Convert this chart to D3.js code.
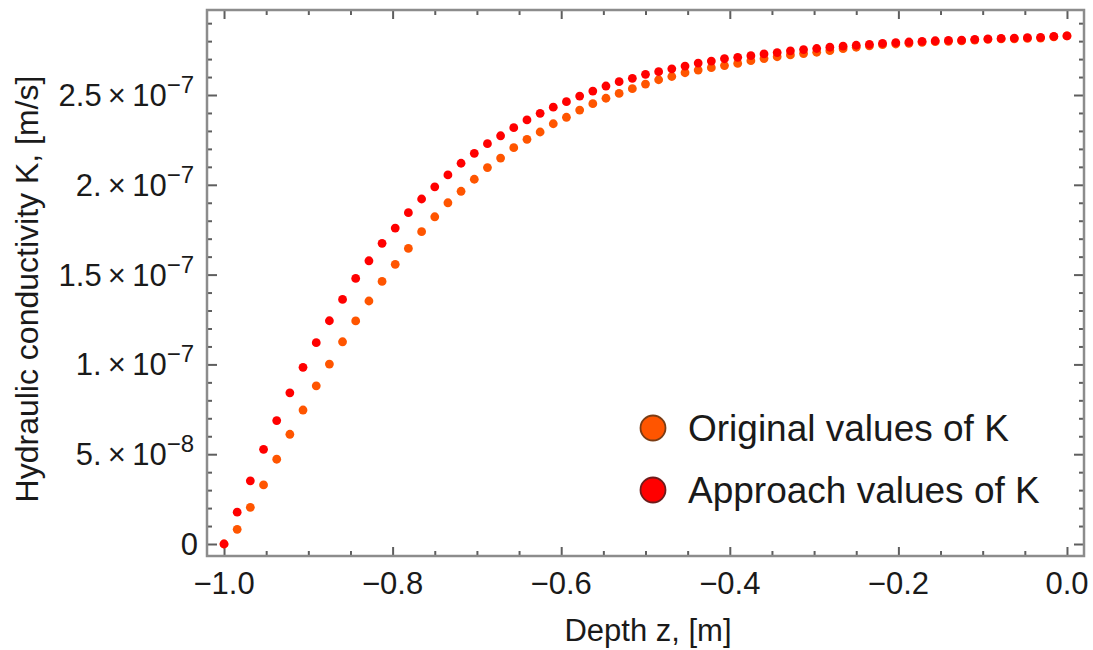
<!DOCTYPE html>
<html>
<head>
<meta charset="utf-8">
<script src="https://cdn.jsdelivr.net/npm/d3@7"></script>
<style>
  html, body { margin: 0; padding: 0; background: #fff; }
  svg { display: block; }
  text { font-family: "Liberation Sans", Arial, sans-serif; fill: #1a1a1a; }
</style>
</head>
<body>
<svg id="chart" width="1093" height="650"></svg>
<script>
// ---------------- data ----------------
const depth = [
  -1, -0.9844, -0.9688, -0.9531, -0.9375, -0.9219, -0.9063, -0.8906, -0.875, -0.8594,
  -0.8438, -0.8281, -0.8125, -0.7969, -0.7813, -0.7656, -0.75, -0.7344, -0.7188, -0.7031,
  -0.6875, -0.6719, -0.6563, -0.6406, -0.625, -0.6094, -0.5938, -0.5781, -0.5625, -0.5469,
  -0.5313, -0.5156, -0.5, -0.4844, -0.4688, -0.4531, -0.4375, -0.4219, -0.4063, -0.3906,
  -0.375, -0.3594, -0.3438, -0.3281, -0.3125, -0.2969, -0.2813, -0.2656, -0.25, -0.2344,
  -0.2188, -0.2031, -0.1875, -0.1719, -0.1563, -0.1406, -0.125, -0.1094, -0.0938, -0.0781,
  -0.0625, -0.0469, -0.0313, -0.0156, 0
];
// hydraulic conductivity in units of 1e-7 m/s
const originalK = [
  0, 0.082, 0.204, 0.329, 0.472, 0.611, 0.746, 0.881, 1.002, 1.126,
  1.242, 1.353, 1.462, 1.557, 1.646, 1.739, 1.822, 1.900, 1.964, 2.031,
  2.096, 2.149, 2.207, 2.253, 2.294, 2.340, 2.376, 2.416, 2.452, 2.482,
  2.509, 2.535, 2.561, 2.585, 2.603, 2.624, 2.639, 2.652, 2.664, 2.676,
  2.691, 2.703, 2.713, 2.723, 2.731, 2.738, 2.747, 2.758, 2.766, 2.773,
  2.780, 2.784, 2.788, 2.793, 2.797, 2.799, 2.801, 2.806, 2.810, 2.812,
  2.813, 2.815, 2.817, 2.824, 2.829
];
const approachK = [
  0, 0.177, 0.352, 0.527, 0.687, 0.842, 0.984, 1.121, 1.243, 1.362,
  1.479, 1.577, 1.674, 1.759, 1.845, 1.921, 1.989, 2.055, 2.120, 2.175,
  2.229, 2.273, 2.318, 2.361, 2.398, 2.432, 2.463, 2.494, 2.522, 2.550,
  2.574, 2.593, 2.615, 2.630, 2.646, 2.661, 2.678, 2.689, 2.702, 2.710,
  2.719, 2.729, 2.736, 2.746, 2.753, 2.759, 2.766, 2.772, 2.777, 2.782,
  2.788, 2.792, 2.795, 2.799, 2.802, 2.804, 2.806, 2.810, 2.813, 2.815,
  2.817, 2.819, 2.821, 2.826, 2.829
];
const UNIT = 1e-7;

const xMajorTicks = [-1.0, -0.8, -0.6, -0.4, -0.2, 0.0];
const xTickLabels = ["\u22121.0", "\u22120.8", "\u22120.6", "\u22120.4", "\u22120.2", "0.0"];
const yMajorTicks = [0, 0.5e-7, 1e-7, 1.5e-7, 2e-7, 2.5e-7];
const yTickMantissa = ["0", "5.", "1.", "1.5", "2.", "2.5"];
const yTickExponent = ["", "\u22128", "\u22127", "\u22127", "\u22127", "\u22127"];

const seriesNames = ["Original values of K", "Approach values of K"];
const seriesColors = ["#ff5500", "#ff0000"];
const legendStroke = ["#7a3c14", "#6e1c1c"];

// ---------------- layout ----------------
const svg = d3.select("#chart");
const L = 207, R = 1084, T = 10, B = 556;

const x = d3.scaleLinear().domain([-1.0202, 0.0202]).range([L, R]);
const y = d3.scaleLinear().domain([-0.0668e-7, 2.9733e-7]).range([B, T]);

const frameColor = "#8c8c8c";
const tickColor = "#5e5e5e";

// minor tick values
const xMinor = d3.range(-20, 1).map(i => i * 0.05).filter(v => !xMajorTicks.some(m => Math.abs(m - v) < 1e-9));
const yMinor = d3.range(0, 30).map(i => i * 1e-8).filter(v => !yMajorTicks.some(m => Math.abs(m - v) < 1e-12));

function styleAxis(g) {
  g.select(".domain").remove();
  g.selectAll(".tick line").attr("stroke", tickColor).attr("stroke-width", 2);
}

// bottom
svg.append("g").attr("transform", `translate(0,${B})`)
  .call(d3.axisBottom(x).tickValues(xMajorTicks).tickSize(-9).tickFormat(""))
  .call(styleAxis);
svg.append("g").attr("transform", `translate(0,${B})`)
  .call(d3.axisBottom(x).tickValues(xMinor).tickSize(-5).tickFormat(""))
  .call(styleAxis);
// top
svg.append("g").attr("transform", `translate(0,${T})`)
  .call(d3.axisTop(x).tickValues(xMajorTicks).tickSize(-9).tickFormat(""))
  .call(styleAxis);
svg.append("g").attr("transform", `translate(0,${T})`)
  .call(d3.axisTop(x).tickValues(xMinor).tickSize(-5).tickFormat(""))
  .call(styleAxis);
// left
svg.append("g").attr("transform", `translate(${L},0)`)
  .call(d3.axisLeft(y).tickValues(yMajorTicks).tickSize(-10).tickFormat(""))
  .call(styleAxis);
svg.append("g").attr("transform", `translate(${L},0)`)
  .call(d3.axisLeft(y).tickValues(yMinor).tickSize(-5).tickFormat(""))
  .call(styleAxis);
// right
svg.append("g").attr("transform", `translate(${R},0)`)
  .call(d3.axisRight(y).tickValues(yMajorTicks).tickSize(-10).tickFormat(""))
  .call(styleAxis);
svg.append("g").attr("transform", `translate(${R},0)`)
  .call(d3.axisRight(y).tickValues(yMinor).tickSize(-5).tickFormat(""))
  .call(styleAxis);

// frame
svg.append("rect")
  .attr("x", L).attr("y", T).attr("width", R - L).attr("height", B - T)
  .attr("fill", "none").attr("stroke", frameColor).attr("stroke-width", 2.5);

// x tick labels
svg.append("g").selectAll("text").data(xMajorTicks).join("text")
  .attr("x", d => x(d)).attr("y", 594)
  .attr("text-anchor", "middle").attr("font-size", 31)
  .text((d, i) => xTickLabels[i]);

// y tick labels
const yl = svg.append("g").selectAll("text").data(yMajorTicks).join("text")
  .attr("x", 194).attr("y", d => y(d) + 11)
  .attr("text-anchor", "end").attr("font-size", 31);
yl.each(function(d, i) {
  const t = d3.select(this);
  if (yTickExponent[i] === "") { t.attr("x", 198).text(yTickMantissa[i]); return; }
  t.append("tspan").text(yTickMantissa[i] + "\u2009\u00d7\u200910");
  t.append("tspan").attr("font-size", 24).attr("dy", -13).text(yTickExponent[i]);
});

// axis titles
svg.append("text")
  .attr("x", 648).attr("y", 641)
  .attr("text-anchor", "middle").attr("font-size", 31)
  .text("Depth z, [m]");
svg.append("text")
  .attr("transform", "translate(38,289) rotate(-90)")
  .attr("text-anchor", "middle").attr("font-size", 32)
  .text("Hydraulic conductivity K, [m/s]");

// points
const seriesData = [originalK, approachK];
seriesData.forEach((vals, s) => {
  svg.append("g").selectAll("circle").data(vals).join("circle")
    .attr("cx", (d, i) => x(depth[i]))
    .attr("cy", d => y(d * UNIT))
    .attr("r", 4.4)
    .attr("fill", seriesColors[s]);
});

// legend
const legY = [428, 490];
const lg = svg.append("g");
seriesNames.forEach((name, s) => {
  lg.append("circle").attr("cx", 653).attr("cy", legY[s]).attr("r", 12.5)
    .attr("fill", seriesColors[s]).attr("stroke", legendStroke[s]).attr("stroke-width", 1.8);
  lg.append("text").attr("x", 688).attr("y", legY[s] + 13)
    .attr("font-size", 37).text(name);
});
</script>
</body>
</html>
